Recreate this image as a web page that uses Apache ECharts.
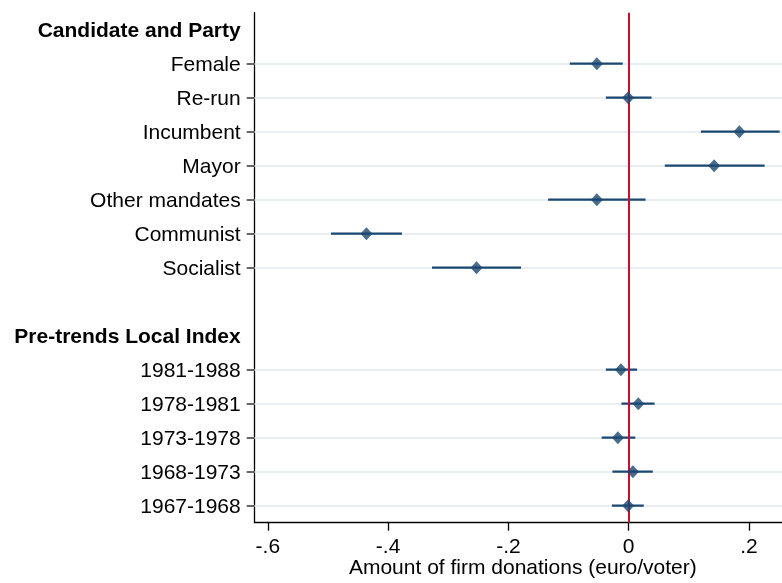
<!DOCTYPE html>
<html>
<head>
<meta charset="utf-8">
<script src="https://cdn.jsdelivr.net/npm/echarts@6/dist/echarts.min.js"></script>
<style>html,body{margin:0;padding:0;background:#fff;}#c{width:782px;height:583px;}</style>
</head>
<body>
<div id="c"></div>
<script>
// Rows from top to bottom ("" = blank spacer row)
const categories = ["Candidate and Party", "Female", "Re-run", "Incumbent", "Mayor", "Other mandates", "Communist", "Socialist", "", "Pre-trends Local Index", "1981-1988", "1978-1981", "1973-1978", "1968-1973", "1967-1968"];
const headers = ["Candidate and Party", "Pre-trends Local Index"];
const estLabels = ["Female", "Re-run", "Incumbent", "Mayor", "Other mandates", "Communist", "Socialist", "1981-1988", "1978-1981", "1973-1978", "1968-1973", "1967-1968"];
const estimates = [-0.053, -0.001, 0.184, 0.142, -0.053, -0.436, -0.253, -0.013, 0.016, -0.018, 0.007, -0.001];
const ciLow = [-0.098, -0.038, 0.120, 0.060, -0.134, -0.495, -0.327, -0.038, -0.012, -0.045, -0.027, -0.028];
const ciHigh = [-0.010, 0.038, 0.251, 0.226, 0.028, -0.377, -0.179, 0.014, 0.043, 0.011, 0.040, 0.025];
const xTicks = [-0.6, -0.4, -0.2, 0, 0.2];
const xTitle = "Amount of firm donations (euro/voter)";

const FONT = "'Liberation Sans', Arial, Helvetica, sans-serif";
const NAVY = "#1a476f";

const rowIdx = categories.map((c, i) => i);
const labelRows = rowIdx.filter(i => categories[i] !== "");
const dataRows = estLabels.map(l => categories.indexOf(l));
const pointData = estLabels.map((l, i) => [estimates[i], categories.indexOf(l)]);
const barData = estLabels.map((l, i) => [ciLow[i], ciHigh[i], categories.indexOf(l)]);

function fmt(v) {
  if (Math.abs(v) < 1e-9) return "0";
  let s = String(Math.round(v * 10) / 10);
  return s.replace("0.", ".");
}

const chart = echarts.init(document.getElementById('c'), null, {renderer: 'canvas'});
chart.setOption({
  animation: false,
  backgroundColor: '#fff',
  grid: {left: 254.7, top: 12.7, height: 510, width: 536.3, containLabel: false, outerBoundsMode: 'none'},
  xAxis: {
    type: 'value',
    min: -0.6218, max: 0.2698,
    axisLine: {show: true, onZero: false, lineStyle: {color: '#000', width: 1.3}},
    axisTick: {show: true, length: 8, customValues: xTicks, lineStyle: {color: '#000', width: 1.3}},
    axisLabel: {customValues: xTicks, formatter: fmt, margin: 14, fontSize: 21, color: '#000', fontFamily: FONT},
    splitLine: {show: false},
    name: xTitle, nameLocation: 'middle', nameGap: 35, nameMoveOverlap: false,
    nameTextStyle: {fontSize: 21, color: '#000', fontFamily: FONT}
  },
  yAxis: {
    type: 'value',
    inverse: true,
    min: -0.5, max: 14.5,
    axisLine: {show: true, onZero: false, lineStyle: {color: '#000', width: 1.3}},
    axisTick: {show: true, length: 8, customValues: dataRows, lineStyle: {color: '#555', width: 1.8}},
    axisLabel: {
      customValues: labelRows, margin: 14, fontSize: 21, color: '#000', fontFamily: FONT,
      padding: [3, 0, 0, 0],
      formatter: (v) => {
        const name = categories[Math.round(v)] || "";
        return headers.indexOf(name) >= 0 ? '{b|' + name + '}' : name;
      },
      rich: {b: {fontWeight: 'bold', fontSize: 21, color: '#000', fontFamily: FONT}}
    },
    splitLine: {show: false}
  },
  series: [
    {
      type: 'scatter',
      data: [],
      silent: true,
      z: 1,
      markLine: {
        silent: true, symbol: ['none', 'none'], label: {show: false},
        lineStyle: {color: '#e8eef2', width: 2, type: 'solid'},
        data: dataRows.map(r => ({yAxis: r})),
        z: 1
      }
    },
    {
      type: 'custom',
      data: barData,
      encode: {x: [0, 1], y: 2},
      renderItem: function (params, api) {
        const a = api.coord([api.value(0), api.value(2)]);
        const b = api.coord([api.value(1), api.value(2)]);
        return {type: 'line', shape: {x1: a[0], y1: a[1], x2: b[0], y2: b[1]}, style: {stroke: NAVY, lineWidth: 2.2}};
      },
      z: 3
    },
    {
      type: 'scatter',
      data: pointData,
      symbol: 'diamond',
      symbolSize: [12, 13],
      itemStyle: {color: NAVY},
      z: 5,
      markLine: {
        silent: true, symbol: ['none', 'none'],
        label: {show: false},
        lineStyle: {color: '#c8102e', width: 2, type: 'solid'},
        data: [{xAxis: 0}]
      }
    }
  ]
});
</script>
</body>
</html>
